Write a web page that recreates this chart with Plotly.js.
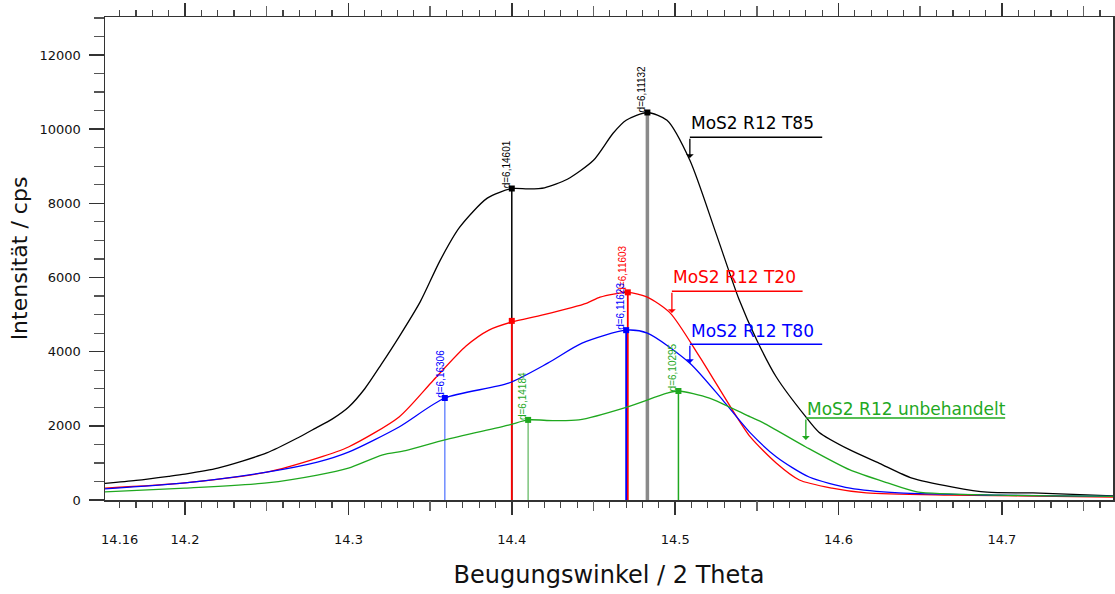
<!DOCTYPE html>
<html><head><meta charset="utf-8">
<script src="https://cdn.plot.ly/plotly-3.0.1.min.js"></script>
<style>html,body{margin:0;padding:0;background:#fff;} #chart{width:1115px;height:594px;}</style>
</head><body><div id="chart"></div>
<script>
// ---- series data (2 Theta, intensity cps) ----
const x_T85 = [14.151,14.17,14.19,14.20,14.22,14.25,14.27,14.28,14.29,14.30,14.31,14.32,14.331,14.344,14.356,14.368,14.385,14.400,14.410,14.420,14.434,14.450,14.462,14.470,14.483,14.495,14.509,14.525,14.539,14.550,14.562,14.580,14.588,14.607,14.625,14.645,14.670,14.691,14.719,14.768];
const y_T85 = [450,530,640,700,860,1270,1700,1940,2180,2500,3000,3650,4400,5350,6450,7350,8140,8400,8390,8420,8650,9160,9890,10240,10450,10240,9160,7190,5420,4310,3310,2240,1830,1350,990,590,350,210,190,110];

const x_T20 = [14.151,14.20,14.25,14.281,14.30,14.331,14.352,14.372,14.386,14.400,14.419,14.446,14.454,14.471,14.483,14.497,14.515,14.535,14.546,14.562,14.576,14.596,14.617,14.668,14.768];
const y_T20 = [320,460,750,1130,1430,2240,3230,4150,4580,4800,4990,5310,5470,5600,5470,5040,3860,2430,1700,990,540,320,190,130,80];

const x_T80 = [14.151,14.20,14.25,14.281,14.30,14.331,14.359,14.398,14.422,14.443,14.470,14.483,14.509,14.529,14.546,14.562,14.582,14.607,14.637,14.698,14.768];
const y_T80 = [300,460,750,1020,1290,1970,2750,3150,3690,4230,4580,4500,3690,2700,1810,1160,620,320,190,130,100];

const x_unb = [14.151,14.20,14.25,14.281,14.30,14.321,14.335,14.359,14.398,14.410,14.425,14.441,14.470,14.495,14.502,14.521,14.546,14.554,14.580,14.607,14.630,14.648,14.699,14.768];
const y_unb = [220,320,460,670,860,1220,1330,1620,2020,2160,2140,2160,2500,2880,2940,2750,2240,2080,1430,810,460,220,130,100];

// ---- peak positions (2 Theta), heights and labels ----
const peakX_T85 = [14.400, 14.483];
const peakY_T85 = [8400, 10450];
const peakL_T85 = ['d=6,14601', 'd=6,11132'];
const peakX_T20 = [14.400, 14.471];
const peakY_T20 = [4830, 5600];
const peakL_T20 = ['', 'd=6,11603'];
const peakX_T80 = [14.359, 14.470];
const peakY_T80 = [2750, 4580];
const peakL_T80 = ['d=6,16306', 'd=6,11623'];
const peakX_unb = [14.410, 14.502];
const peakY_unb = [2160, 2940];
const peakL_unb = ['d=6,14184', 'd=6,10295'];

// ---- series names ----
const names = ['MoS2 R12 T85', 'MoS2 R12 T20', 'MoS2 R12 T80', 'MoS2 R12 unbehandelt'];

// ---- axis ticks ----
const xTickVals = [14.2, 14.3, 14.4, 14.5, 14.6, 14.7];
const xTickText = ['14.2', '14.3', '14.4', '14.5', '14.6', '14.7'];
const xMidTicks = [14.15, 14.25, 14.35, 14.45, 14.55, 14.65, 14.75];
const xStartTick = [14.16];
const xStartText = ['14.16'];
const yTickVals = [0, 2000, 4000, 6000, 8000, 10000, 12000];
const yTickText = ['0', '2000', '4000', '6000', '8000', '10000', '12000'];

// ---- styling ----
const C = {k:'#000000', r:'#ff0000', b:'#0000ff', g:'#1fa81f'};
const dropColors = [
  ['#000000', '#8a8a8a'],
  ['#ff0000', '#ff0000'],
  ['#6f8cff', '#0000ff'],
  ['#7cc47c', '#1fa81f']
];
const dropWidths = [[1.5, 3.5], [1.8, 1.8], [1.5, 1.8], [1.5, 1.5]];
const series = [
  {x:x_T85, y:y_T85, c:C.k, px:peakX_T85, py:peakY_T85, pl:peakL_T85},
  {x:x_T20, y:y_T20, c:C.r, px:peakX_T20, py:peakY_T20, pl:peakL_T20},
  {x:x_T80, y:y_T80, c:C.b, px:peakX_T80, py:peakY_T80, pl:peakL_T80},
  {x:x_unb, y:y_unb, c:C.g, px:peakX_unb, py:peakY_unb, pl:peakL_unb}
];

const traces = [];
const annotations = [];
series.forEach((s, i) => {
  s.px.forEach((p, j) => {
    traces.push({x:[p, p], y:[0, s.py[j]], mode:'lines', hoverinfo:'skip',
      line:{color:dropColors[i][j], width:dropWidths[i][j]}});
  });
});
series.forEach((s, i) => {
  traces.push({x:s.x, y:s.y, mode:'lines', name:names[i],
    line:{color:s.c, width:1.3, shape:'spline', smoothing:0.7}});
});
series.forEach((s, i) => {
  traces.push({x:s.px, y:s.py, mode:'markers', hoverinfo:'skip',
    marker:{symbol:'square', size:6, color:s.c}});
  s.px.forEach((p, j) => {
    if (!s.pl[j]) return;
    annotations.push({x:p, y:s.py[j], xref:'x', yref:'y', text:s.pl[j], showarrow:false,
      textangle:-90, xanchor:'center', yanchor:'bottom', xshift:-5, yshift:-2,
      font:{family:'Liberation Sans', size:10, color:s.c}});
  });
});

const legendPos = [
  {x0:14.509, x1:14.590, yl:9780, yt:10160, tip:9220, c:C.k},
  {x0:14.498, x1:14.578, yl:5630, yt:6010, tip:5040, c:C.r},
  {x0:14.509, x1:14.590, yl:4200, yt:4560, tip:3690, c:C.b},
  {x0:14.580, x1:14.702, yl:2210, yt:2460, tip:1620, c:C.g}
];
const shapes = [];
legendPos.forEach((L, i) => {
  shapes.push({type:'line', xref:'x', yref:'y', x0:L.x0, x1:L.x1, y0:L.yl, y1:L.yl,
    line:{color:L.c, width:1.5}});
  annotations.push({x:L.x0, y:L.yt, xref:'x', yref:'y', text:names[i], showarrow:false,
    xanchor:'left', yanchor:'middle', xshift:-1, font:{family:'DejaVu Sans', size:17, color:L.c}});
  annotations.push({x:L.x0, y:L.tip, xref:'x', yref:'y', ax:L.x0, ay:L.yl, axref:'x', ayref:'y',
    text:'', showarrow:true, arrowhead:1, arrowsize:1, arrowwidth:1.3, arrowcolor:L.c, standoff:0});
});

const xr = [14.151, 14.768];
const tf = {family:'DejaVu Sans', size:13, color:'#111'};
const layout = {
  width:1115, height:594,
  margin:{l:105, r:2, t:17, b:94},
  paper_bgcolor:'#ffffff', plot_bgcolor:'#ffffff',
  showlegend:false,
  font:{family:'DejaVu Sans', color:'#222'},
  xaxis:{range:xr, tickvals:xTickVals, ticktext:xTickText, ticks:'outside', ticklen:13, tickwidth:1.5,
    tickcolor:'#333', showline:true, linecolor:'#333', linewidth:1.5, mirror:'ticks',
    showgrid:false, zeroline:false, ticklabelstandoff:14,
    minor:{dtick:0.01, tick0:14.15, ticklen:6, tickwidth:1.2, tickcolor:'#444', ticks:'outside', showgrid:false},
    tickfont:tf,
    title:{text:'Beugungswinkel / 2 Theta', font:{family:'DejaVu Sans', size:24, color:'#111'}, standoff:20}},
  xaxis2:{overlaying:'x', range:xr, tickvals:xMidTicks, ticks:'outside', ticklen:10, tickwidth:1.5,
    tickcolor:'#666', showticklabels:false, showgrid:false, zeroline:false, showline:false, mirror:'ticks', side:'bottom'},
  xaxis3:{overlaying:'x', range:xr, tickvals:xStartTick, ticktext:xStartText, ticks:'outside', ticklen:6,
    tickwidth:1.2, tickcolor:'#444', showgrid:false, zeroline:false, showline:false, side:'bottom',
    ticklabelstandoff:21, tickfont:tf},
  yaxis:{range:[0, 13025], tickvals:yTickVals, ticktext:yTickText, ticks:'outside', ticklen:15, tickwidth:1.5, tickcolor:'#333',
    showline:true, linecolor:'#333', linewidth:1.5, mirror:true, showgrid:false, zeroline:false,
    ticklabelstandoff:5,
    minor:{dtick:500, ticklen:10, tickwidth:1.2, tickcolor:'#555', ticks:'outside', showgrid:false},
    tickfont:tf,
    title:{text:'Intensität / cps', font:{family:'DejaVu Sans', size:22, color:'#111'}, standoff:6}},
  shapes:shapes,
  annotations:annotations
};
traces.push({x:[xr[0]], y:[0], xaxis:'x2', mode:'markers', marker:{opacity:0}, hoverinfo:'skip'});
traces.push({x:[xr[0]], y:[0], xaxis:'x3', mode:'markers', marker:{opacity:0}, hoverinfo:'skip'});
Plotly.newPlot('chart', traces, layout, {displayModeBar:false, staticPlot:true});
</script>
</body></html>
